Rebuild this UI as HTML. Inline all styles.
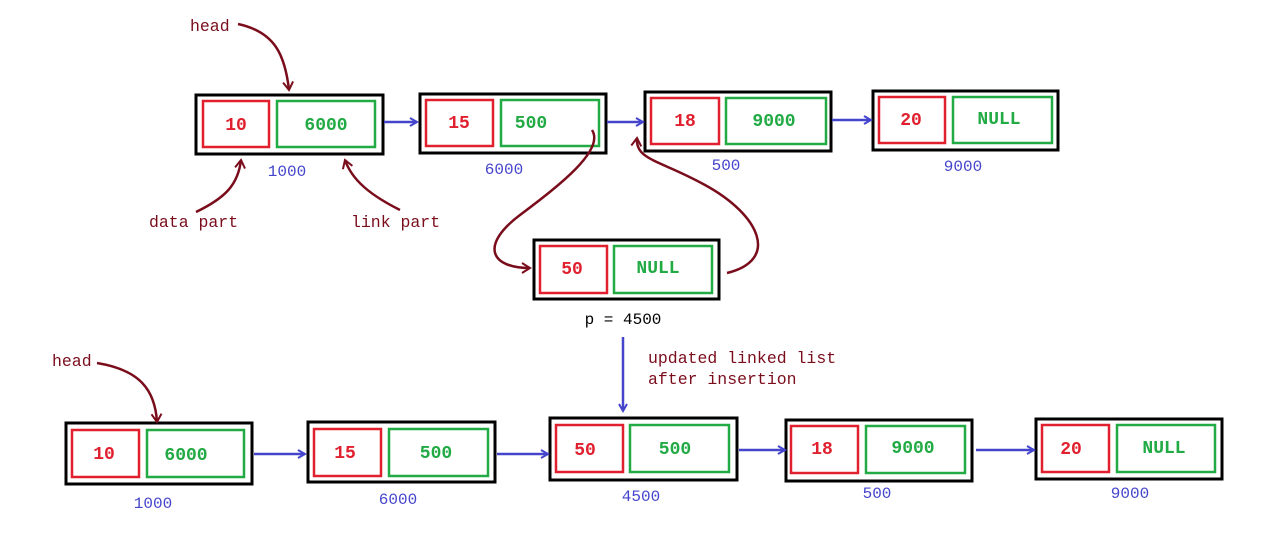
<!DOCTYPE html>
<html><head><meta charset="utf-8"><style>
body{margin:0;background:#fff}
svg{display:block}
.v{font-family:"Liberation Mono",monospace;font-weight:bold;font-size:18px;text-anchor:middle;dominant-baseline:central}
.r{fill:#e0202e}.g{fill:#22aa44}
.a{font-family:"Liberation Mono",monospace;font-size:16px;fill:#4444cc;text-anchor:middle}
.m{font-family:"Liberation Mono",monospace;font-size:16.5px;fill:#7a0d1c}
</style></head><body>
<svg width="1280" height="537" viewBox="0 0 1280 537" xmlns="http://www.w3.org/2000/svg">
<defs>
<marker id="bl" markerWidth="10" markerHeight="10" refX="8" refY="5" orient="auto" markerUnits="userSpaceOnUse"><path d="M1,1 L8,5 L1,9" fill="none" stroke="#4444cc" stroke-width="2"/></marker>
<marker id="rd" markerWidth="12" markerHeight="12" refX="9" refY="6" orient="auto" markerUnits="userSpaceOnUse"><path d="M1,1 L9,6 L1,11" fill="none" stroke="#7a0d1c" stroke-width="2"/></marker>
</defs>
<g fill="none" stroke-width="2.5">
<rect x="196" y="95" width="187" height="59" stroke="#000" stroke-width="3"/>
<rect x="203" y="101" width="66" height="46" stroke="#e0202e"/><rect x="277" y="101" width="98" height="46" stroke="#22aa44"/>
<rect x="420" y="94" width="186" height="59" stroke="#000" stroke-width="3"/>
<rect x="426" y="100" width="67" height="46" stroke="#e0202e"/><rect x="501" y="100" width="98" height="46" stroke="#22aa44"/>
<rect x="645" y="92" width="186" height="59" stroke="#000" stroke-width="3"/>
<rect x="651" y="98" width="68" height="46" stroke="#e0202e"/><rect x="726" y="98" width="100" height="46" stroke="#22aa44"/>
<rect x="873" y="91" width="185" height="59" stroke="#000" stroke-width="3"/>
<rect x="879" y="97" width="66" height="46" stroke="#e0202e"/><rect x="953" y="97" width="99" height="46" stroke="#22aa44"/>
<rect x="534" y="240" width="185" height="59" stroke="#000" stroke-width="3"/>
<rect x="540" y="246" width="67" height="47" stroke="#e0202e"/><rect x="614" y="246" width="98" height="47" stroke="#22aa44"/>
<rect x="66" y="423" width="186" height="61" stroke="#000" stroke-width="3"/>
<rect x="72" y="430" width="67" height="47" stroke="#e0202e"/><rect x="147" y="430" width="97" height="47" stroke="#22aa44"/>
<rect x="308" y="422" width="187" height="60" stroke="#000" stroke-width="3"/>
<rect x="314" y="429" width="67" height="47" stroke="#e0202e"/><rect x="389" y="429" width="99" height="47" stroke="#22aa44"/>
<rect x="550" y="418" width="187" height="62" stroke="#000" stroke-width="3"/>
<rect x="556" y="425" width="67" height="47" stroke="#e0202e"/><rect x="630" y="425" width="99" height="47" stroke="#22aa44"/>
<rect x="786" y="420" width="186" height="61" stroke="#000" stroke-width="3"/>
<rect x="791" y="426" width="67" height="47" stroke="#e0202e"/><rect x="866" y="426" width="99" height="47" stroke="#22aa44"/>
<rect x="1036" y="419" width="186" height="60" stroke="#000" stroke-width="3"/>
<rect x="1042" y="425" width="67" height="47" stroke="#e0202e"/><rect x="1117" y="425" width="98" height="47" stroke="#22aa44"/>
</g>
<g stroke="#4444cc" stroke-width="2.5" fill="none">
<line x1="384" y1="122" x2="417" y2="122" marker-end="url(#bl)"/>
<line x1="607" y1="122" x2="643" y2="122" marker-end="url(#bl)"/>
<line x1="832" y1="120" x2="871" y2="120" marker-end="url(#bl)"/>
<line x1="254" y1="454" x2="305" y2="454" marker-end="url(#bl)"/>
<line x1="497" y1="454" x2="548" y2="454" marker-end="url(#bl)"/>
<line x1="739" y1="450" x2="785" y2="450" marker-end="url(#bl)"/>
<line x1="976" y1="450" x2="1034" y2="450" marker-end="url(#bl)"/>
<line x1="623" y1="337" x2="623" y2="411" marker-end="url(#bl)"/>
</g>
<g stroke="#7a0d1c" stroke-width="2.5" fill="none">
<path d="M238,24 C275,32 285,55 289,90" marker-end="url(#rd)"/>
<path d="M196,212 C225,198 238,185 241,160" marker-end="url(#rd)"/>
<path d="M400,210 C370,195 352,180 345,160" marker-end="url(#rd)"/>
<path d="M592,130 C605,150 560,185 520,215 C480,245 490,268 530,268" marker-end="url(#rd)"/>
<path d="M727,273 C780,260 760,215 705,185 C660,160 635,160 637,138" marker-end="url(#rd)"/>
<path d="M97,363 C140,370 155,390 157,422" marker-end="url(#rd)"/>
</g>
<g class="v">
<text x="236" y="126" class="r">10</text><text x="326" y="126" class="g">6000</text>
<text x="459" y="124" class="r">15</text><text x="531" y="124" class="g">500</text>
<text x="685" y="122" class="r">18</text><text x="774" y="122" class="g">9000</text>
<text x="911" y="121" class="r">20</text><text x="999" y="120" class="g">NULL</text>
<text x="572" y="270" class="r">50</text><text x="658" y="269" class="g">NULL</text>
<text x="104" y="455" class="r">10</text><text x="186" y="456" class="g">6000</text>
<text x="345" y="454" class="r">15</text><text x="436" y="454" class="g">500</text>
<text x="585" y="451" class="r">50</text><text x="675" y="450" class="g">500</text>
<text x="822" y="450" class="r">18</text><text x="913" y="449" class="g">9000</text>
<text x="1071" y="450" class="r">20</text><text x="1164" y="449" class="g">NULL</text>
</g>
<g class="a">
<text x="287" y="176">1000</text><text x="504" y="174">6000</text><text x="726" y="170">500</text><text x="963" y="171">9000</text>
<text x="153" y="508">1000</text><text x="398" y="504">6000</text><text x="641" y="501">4500</text><text x="877" y="498">500</text><text x="1130" y="498">9000</text>
</g>
<g class="m">
<text x="190" y="31">head</text>
<text x="149" y="227">data part</text>
<text x="351" y="227">link part</text>
<text x="52" y="366">head</text>
<text x="648" y="363">updated linked list</text>
<text x="648" y="384">after insertion</text>
</g>
<text x="623" y="324" font-family="Liberation Mono,monospace" font-size="16" text-anchor="middle" fill="#000">p = 4500</text>
</svg>
</body></html>
